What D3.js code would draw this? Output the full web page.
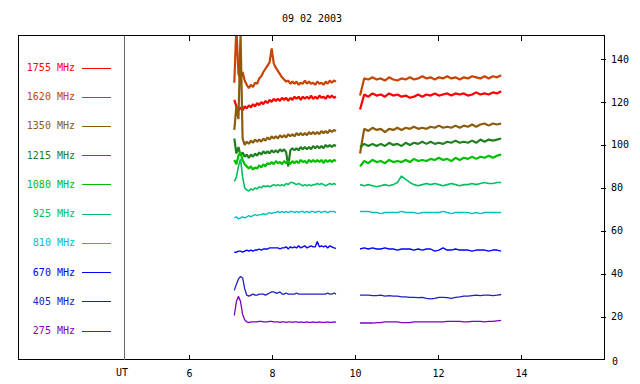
<!DOCTYPE html>
<html>
<head>
<meta charset="utf-8">
<script src="https://cdn.jsdelivr.net/npm/d3@7"></script>
<style>
  body { margin: 0; background: #fff; }
  svg { display: block; font-family: "DejaVu Sans Mono", monospace; font-size: 10px; }
</style>
</head>
<body>
<div id="chart"></div>
<script>
const W = 640, H = 384;
const box = { left: 18.5, right: 604.5, top: 35.5, bottom: 359.5 };

const title = '09 02 2003';
const xTicks = [6, 8, 10, 12, 14];
const yTicks = [20, 40, 60, 80, 100, 120, 140];

// time grids (UT hours) of the two recorded blocks
const t1 = d3.range(50).map(i => +(7.08 + i * 0.05).toFixed(2));
const t2 = d3.range(35).map(i => +(10.11 + i * 0.1).toFixed(2));

const labels = ['1755 MHz', '1620 MHz', '1350 MHz', '1215 MHz', '1080 MHz',
  '925 MHz', '810 MHz', '670 MHz', '405 MHz', '275 MHz'];
const colors = ['#ff0000', '#c84400', '#8c5c0c', '#208020', '#00c000',
  '#00c060', '#00c0c0', '#0000ff', '#2020c0', '#8000c0'];
// noisier channels look like thicker bands
const widths = [2.2, 2.2, 2.2, 2.2, 2.2, 1.6, 1.4, 1.4, 1.3, 1.3];

const s1755a = [121, 118, 116, 117.5, 116, 118, 117, 118.5, 117.5, 119,
  118, 119.5, 118.5, 120, 119, 120.5, 119.5, 121, 120, 121.5,
  120.5, 121.5, 120.5, 122, 121, 122, 120.5, 122, 121, 122.5,
  121.5, 122.5, 121, 122.5, 121.5, 122.5, 121.5, 123, 121.5, 122.5,
  121.5, 123, 122, 122.5, 121.5, 123, 122, 123, 122, 122.5];
const s1755b = [116.5, 123.5, 122.5, 124, 123, 123.5, 122.5, 124, 123, 123.5,
  122.5, 123, 122, 122.5, 123.5, 122.5, 123.5, 123, 124, 123,
  123.5, 124, 123, 124, 123.5, 124, 123, 123.5, 124.5, 123.5,
  124, 123.5, 124.5, 124, 125];

const s1620a = [129, 155, 133, 131, 134, 130, 128, 126.5, 128, 127,
  129, 128.5, 131, 132, 134, 135.5, 137, 138.5, 145, 138,
  136, 134.5, 133, 131.5, 130.5, 129.5, 130, 128.5, 129.5, 128.5,
  129.5, 128, 129, 128.5, 130, 128.5, 129.5, 128.5, 129, 128,
  129.5, 128.5, 129, 128, 129.5, 128.5, 130, 129, 130, 129.5];
const s1620b = [123, 131, 130.5, 131.5, 130.5, 131, 130, 131.5, 130.5, 130,
  131, 130.5, 131.5, 130.5, 131, 132, 131, 131.5, 130.5, 131.5,
  131, 132, 131, 131.5, 130.5, 131.5, 131, 132, 131.5, 131,
  132, 131, 132, 131.5, 132.5];

const s1350a = [107, 118, 112, 152, 103, 100, 101.5, 100.5, 102, 101,
  102.5, 101.5, 102.5, 101.5, 103, 102, 103.5, 102.5, 104, 103,
  104, 103, 104.5, 103.5, 104.5, 103.5, 105, 104, 105, 104,
  105.5, 104.5, 105.5, 104.5, 105.5, 104.5, 106, 105, 106, 105,
  106, 105, 106.5, 105.5, 106.5, 105.5, 107, 106, 107, 106.5];
const s1350b = [96, 107.5, 106.5, 108, 107, 107.5, 106, 107.5, 107, 108,
  107, 108, 107.5, 108.5, 107.5, 108, 107.5, 108.5, 108, 109,
  108, 108.5, 108, 109, 108, 109, 108.5, 109.5, 108.5, 109.5,
  110, 109, 110, 109.5, 110];

const s1215a = [103, 96, 99, 95, 96.5, 94.5, 95.5, 94, 95.5, 94.5,
  96, 95, 96.5, 95.5, 97, 96, 97, 96, 97.5, 96.5,
  97.5, 96.5, 98, 97, 98, 96.5, 90, 97.5, 98.5, 97.5,
  98.5, 97.5, 99, 98, 99, 98, 99, 98, 99.5, 98.5,
  99.5, 98.5, 99.5, 98.5, 100, 99, 100, 99, 100, 99.5];
const s1215b = [99, 100.5, 99.5, 100.5, 99.5, 100.5, 99.5, 101, 100, 100.5,
  99.5, 101, 100, 101, 100.5, 101.5, 100.5, 101.5, 100.5, 101,
  100.5, 101.5, 101, 102, 101, 101.5, 101, 102, 101, 102.5,
  101.5, 102.5, 102, 102.5, 103];

const s1080a = [93, 91, 95, 96.5, 93, 91, 90, 89, 90, 88.5,
  89.5, 89, 90.5, 89.5, 91, 90, 91.5, 91, 92, 91,
  92.5, 91.5, 92, 91, 92.5, 91.5, 92.5, 91, 92.5, 91.5,
  92.5, 91.5, 93, 92, 92.5, 91.5, 93, 92, 93, 92,
  93, 92, 93, 91.5, 93, 92, 93, 92, 93, 92.5];
const s1080b = [90, 92.5, 91.5, 93, 92, 92.5, 91.5, 93, 92, 92.5,
  92, 93, 92, 93.5, 92.5, 93, 92.5, 93.5, 93, 94,
  93, 93.5, 92.5, 94, 93, 94, 93.5, 94.5, 93.5, 94.5,
  94, 95, 94, 95, 95.5];

const s925a = [83, 85, 90, 93.5, 85, 80, 79, 78.5, 79.5, 79,
  80, 79.5, 80.5, 80, 81, 80.5, 81, 80.5, 81, 81.5,
  81, 81.5, 81, 81.5, 81, 82, 81.5, 82.5, 82.5, 82,
  81.5, 82, 81.5, 81, 81.5, 81, 81.5, 81, 81.5, 81.5,
  82, 81.5, 82, 81.5, 81, 81.5, 82, 81.5, 82, 81.5];
const s925b = [81.5, 81, 81.5, 81, 80.5, 81, 81.5, 81, 81.5, 82.5,
  85.5, 84, 82.5, 81.5, 81, 81.5, 82, 81.5, 82, 81.5,
  81, 81.5, 82, 81.5, 81, 81.5, 81.5, 82, 81.5, 82,
  82.5, 82, 82, 82.5, 82.5];

const s810a = [66, 66.5, 65.5, 66, 66.5, 66, 66.5, 67, 66.5, 67,
  67.5, 67, 67.5, 67.5, 68, 67.5, 68, 68.5, 68, 68.5,
  68.5, 69, 68.5, 69, 68.5, 69, 68.5, 69, 69, 68.5,
  69, 68.5, 69, 69, 68.5, 69, 68.5, 69, 69, 68.5,
  69, 69, 68.5, 69, 69, 68.5, 69, 69, 69, 68.5];
const s810b = [69, 69, 69, 68.5, 68.5, 68, 68.5, 68.5, 68.5, 68.5,
  69, 68.5, 68.5, 68.5, 68, 68.5, 68.5, 68.5, 68.5, 68.5,
  69, 68.5, 68, 68.5, 68.5, 68.5, 68.5, 68, 68.5, 68,
  68.5, 68.5, 68.5, 68.5, 68.5];

const s670a = [50, 50, 50.5, 50.5, 50, 50.5, 51, 50.5, 51, 50.5,
  51, 51, 51.5, 51, 51.5, 51.5, 51.5, 52, 52, 52,
  52, 52, 51.5, 52, 52, 52.5, 51.5, 52.5, 52, 52.5,
  52, 53, 52, 52.5, 53, 52, 52.5, 53, 52.5, 52.5,
  55, 52.5, 53, 52.5, 53, 52, 53, 52.5, 52, 51.8];
const s670b = [51.5, 52, 51.5, 52, 51.5, 51.5, 52, 51.5, 51.5, 51,
  51.5, 51.5, 51.5, 51, 51.5, 51, 51.5, 51.5, 50.5, 51,
  52, 51, 51, 51.5, 51, 51, 51, 50.5, 51, 51,
  51, 50.5, 51, 51, 50.5];

const s405a = [32.2, 35, 37.5, 38.7, 38, 33, 30, 29.5, 30, 30.5,
  30, 30, 30.5, 30.5, 30.5, 30, 30.5, 31, 31.5, 31.5,
  31, 31, 31.5, 30.5, 30.5, 31, 30.5, 30.5, 30.5, 30.5,
  31, 30.5, 30.5, 30.5, 30.5, 30.5, 30.5, 30.5, 30.5, 30.5,
  30.5, 30.5, 30.5, 30.5, 30.5, 31, 30.5, 30.5, 31, 30.5];
const s405b = [30, 30, 30, 29.8, 29.8, 30, 29.5, 29.8, 29.5, 29.5,
  29.2, 29.2, 29, 29, 28.8, 29, 28.5, 28.3, 28.5, 29,
  29, 28.8, 28.5, 29, 29.2, 29.5, 29.5, 29.8, 30, 29.8,
  30, 30, 29.8, 30, 30.3];

const s275a = [20.5, 27, 29.5, 27, 21, 18.5, 17.5, 17.2, 17.5, 17.5,
  17.5, 17.5, 17.8, 17.8, 17.5, 17.5, 17.5, 17.8, 17.8, 17.5,
  17.5, 17.5, 17.3, 17.5, 17.5, 17.3, 17.5, 17.5, 17.3, 17.5,
  17.5, 17.3, 17.5, 17.3, 17.3, 17.5, 17.3, 17.3, 17.5, 17.3,
  17.3, 17.5, 17.3, 17.3, 17.3, 17.5, 17.3, 17.3, 17.5, 17.4];
const s275b = [17, 17, 17, 17, 17.2, 17.2, 17.5, 17.5, 17.5, 17.5,
  17.2, 17.2, 17.2, 17.5, 17.5, 17.5, 17.5, 17.5, 17.5, 17.5,
  17.5, 17.8, 17.8, 17.8, 17.8, 17.5, 17.5, 17.8, 17.8, 17.8,
  17.5, 17.8, 17.8, 18, 18.2];

const segA = [s1755a, s1620a, s1350a, s1215a, s1080a, s925a, s810a, s670a, s405a, s275a];
const segB = [s1755b, s1620b, s1350b, s1215b, s1080b, s925b, s810b, s670b, s405b, s275b];

const x = d3.scaleLinear().domain([1.88, 16]).range([box.left, box.right]);
const y = d3.scaleLinear().domain([0, 151]).range([box.bottom, box.top]);

const svg = d3.select('#chart').append('svg')
  .attr('width', W)
  .attr('height', H)
  .attr('viewBox', `0 0 ${W} ${H}`);

svg.append('rect').attr('width', W).attr('height', H).attr('fill', '#fff');

svg.append('defs').append('clipPath').attr('id', 'plot')
  .append('rect')
  .attr('x', box.left).attr('y', box.top)
  .attr('width', box.right - box.left).attr('height', box.bottom - box.top);

// title
svg.append('text')
  .attr('x', 312).attr('y', 22)
  .attr('text-anchor', 'middle')
  .attr('fill', '#000')
  .text(title);

// traces
const line = d3.line().x(d => x(d[0])).y(d => y(d[1]));
const traces = svg.append('g').attr('clip-path', 'url(#plot)');
labels.forEach((lab, i) => {
  [[t1, segA[i]], [t2, segB[i]]].forEach(([ts, vs]) => {
    traces.append('path')
      .datum(ts.map((t, j) => [t, vs[j]]))
      .attr('fill', 'none')
      .attr('stroke', colors[i])
      .attr('stroke-width', widths[i])
      .attr('stroke-linejoin', 'bevel')
      .attr('d', line);
  });
});

// frame
svg.append('rect')
  .attr('x', box.left).attr('y', box.top)
  .attr('width', box.right - box.left).attr('height', box.bottom - box.top)
  .attr('fill', 'none').attr('stroke', '#000').attr('stroke-width', 1)
  .attr('shape-rendering', 'crispEdges');

// UT divider
svg.append('line')
  .attr('x1', 124.5).attr('x2', 124.5)
  .attr('y1', box.top).attr('y2', box.bottom)
  .attr('stroke', '#666').attr('shape-rendering', 'crispEdges');
svg.append('text')
  .attr('x', 122).attr('y', 376)
  .attr('text-anchor', 'middle')
  .text('UT');

// x ticks top and bottom
const xt = svg.append('g').attr('shape-rendering', 'crispEdges');
xTicks.forEach(v => {
  const px = Math.round(x(v)) + 0.5;
  xt.append('line').attr('x1', px).attr('x2', px)
    .attr('y1', box.top).attr('y2', box.top + 5).attr('stroke', '#000');
  xt.append('line').attr('x1', px).attr('x2', px)
    .attr('y1', box.bottom - 5).attr('y2', box.bottom).attr('stroke', '#000');
  svg.append('text')
    .attr('x', x(v)).attr('y', 377)
    .attr('text-anchor', 'middle')
    .text(v);
});

// y ticks on right
yTicks.forEach(v => {
  const py = Math.round(y(v)) + 0.5;
  xt.append('line').attr('x1', box.right - 4).attr('x2', box.right + 1)
    .attr('y1', py).attr('y2', py).attr('stroke', '#000');
  svg.append('text')
    .attr('x', 611).attr('y', y(v) + 3.5)
    .text(v);
});
svg.append('text').attr('x', 612).attr('y', 365).text(0);

// legend
const ly = d3.scaleLinear().domain([0, 9]).range([67.5, 330.5]);
labels.forEach((lab, i) => {
  const py = Math.round(ly(i)) + 0.5;
  svg.append('text')
    .attr('x', 75).attr('y', ly(i) + 3.5)
    .attr('text-anchor', 'end')
    .attr('fill', colors[i])
    .text(lab);
  svg.append('line')
    .attr('x1', 82).attr('x2', 111)
    .attr('y1', py).attr('y2', py)
    .attr('stroke', colors[i])
    .attr('shape-rendering', 'crispEdges');
});
</script>
</body>
</html>
